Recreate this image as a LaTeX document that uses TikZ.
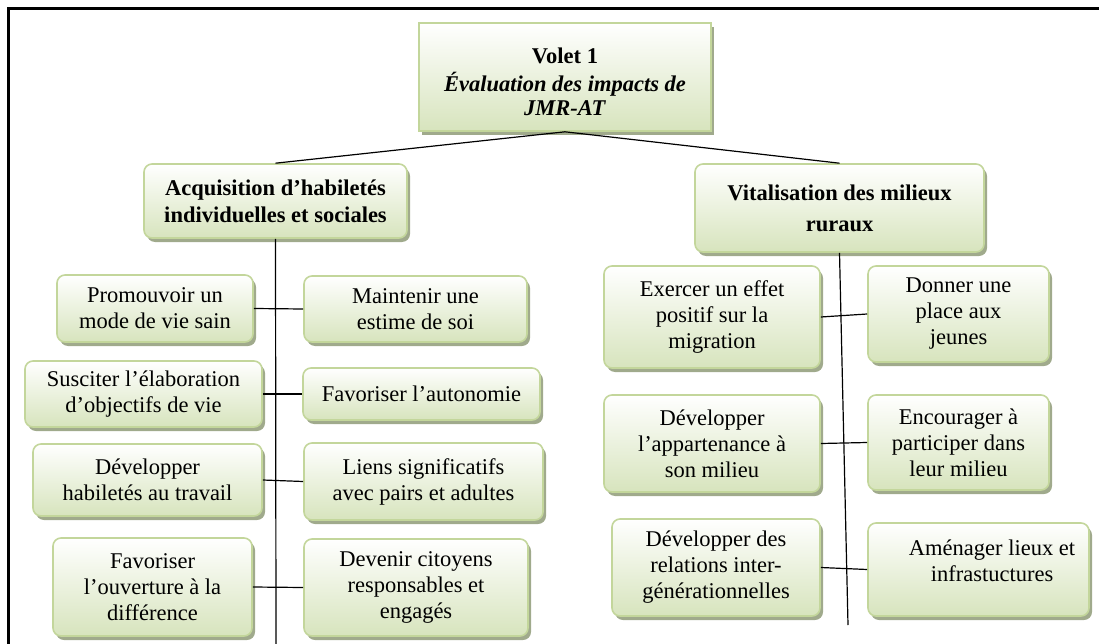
\documentclass[tikz,border=0pt]{standalone}
\usepackage{fontspec}
\setmainfont{Liberation Serif}
\usepackage{tikz}
\usetikzlibrary{shadows}

\definecolor{boxline}{RGB}{195,214,155}
\definecolor{boxfill}{RGB}{215,228,189}
\definecolor{boxshadow}{RGB}{160,170,140}

\begin{document}
\begin{tikzpicture}[x=1pt, y=-1pt]
  \tikzset{box/.style = {draw=boxline, line width=1.6pt, rounded corners=8pt,
      top color=white, bottom color=boxfill, align=center, inner sep=0pt,
      drop shadow={shadow xshift=3pt, shadow yshift=-4pt, fill=boxshadow, opacity=1},
      font=\fontsize{22.5}{26}\selectfont}}
  \tikzset{edge/.style = {-, line width=1.2pt, black}}

  \useasboundingbox (0,0) rectangle (1099,644);
  \draw[line width=2.2pt] (8.5,644) -- (8.5,8.5) -- (1099,8.5);

  % sommet
  \node[box, rounded corners=0pt, minimum width=292, minimum height=108,
        font=\fontsize{22.5}{24}\selectfont\bfseries] (top) at (565, 77)
        {\rule{0pt}{25pt}Volet 1\\[4pt]\textit{Évaluation des impacts de}\\\textit{JMR-AT}};

  % deux branches
  \node[box, minimum width=263, minimum height=74,
        font=\fontsize{22.5}{27}\selectfont\bfseries] (acq) at (275.5, 201)
        {Acquisition d’habiletés\\individuelles et sociales};
  \node[box, minimum width=289, minimum height=88,
        font=\fontsize{22.5}{31}\selectfont\bfseries] (vit) at (839.5, 208)
        {Vitalisation des milieux\\ruraux};

  % colonne de gauche
  \node[box, minimum width=196, minimum height=67] (lp1) at (155, 308.5) {Promouvoir un\\mode de vie sain};
  \node[box, minimum width=223, minimum height=66] (lm1) at (415.5, 309) {Maintenir une\\estime de soi};
  \node[box, minimum width=237, minimum height=66] (lp2) at (143.5, 394) {Susciter l’élaboration\\d’objectifs de vie};
  \node[box, minimum width=237, minimum height=52] (lm2) at (421.5, 394) {Favoriser l’autonomie};
  \node[box, minimum width=229, minimum height=72] (lp3) at (147.5, 480) {Développer\\habiletés au travail};
  \node[box, minimum width=239, minimum height=77] (lm3) at (423.5, 481.5) {Liens significatifs\\avec pairs et adultes};
  \node[box, minimum width=199, minimum height=98] (lp4) at (152.5, 587) {Favoriser\\l’ouverture à la\\différence};
  \node[box, minimum width=224, minimum height=97] (lm4) at (416, 587.5) {Devenir citoyens\\responsables et\\engagés};

  % colonne de droite
  \node[box, minimum width=216, minimum height=102] (rp1) at (712, 317) {Exercer un effet\\positif sur la\\migration};
  \node[box, minimum width=181, minimum height=96] (rm1) at (958.5, 314) {Donner une\\place aux\\jeunes};
  \node[box, minimum width=216, minimum height=97] (rp2) at (712, 443.5) {Développer\\l’appartenance à\\son milieu};
  \node[box, minimum width=181, minimum height=95] (rm2) at (958.5, 442.5) {Encourager à\\participer dans\\leur milieu};
  \node[box, minimum width=208, minimum height=97] (rp3) at (716, 567.5) {Développer des\\relations inter-\\générationnelles};
  \node[box, minimum width=221, minimum height=93] (rm3) at (978.5, 569.5)
        {\hspace*{27pt}Aménager lieux et\\\hspace*{27pt}infrastuctures\rule[-17pt]{0pt}{1pt}};

  \coordinate (lend) at (276, 644);
  \coordinate (rend) at (848, 625);

  \draw[edge] (top.south) to (acq.north);
  \draw[edge] (top.south) to (vit.north);
  \draw[edge] (acq.south) to (lend);
  \draw[edge] (vit.south) to (rend);

  \foreach \i in {1,...,4}
    \draw[edge] (lp\i.east) to (lm\i.west);
  \foreach \i in {1,...,3}
    \draw[edge] (rp\i.east) to (rm\i.west);
\end{tikzpicture}
\end{document}
